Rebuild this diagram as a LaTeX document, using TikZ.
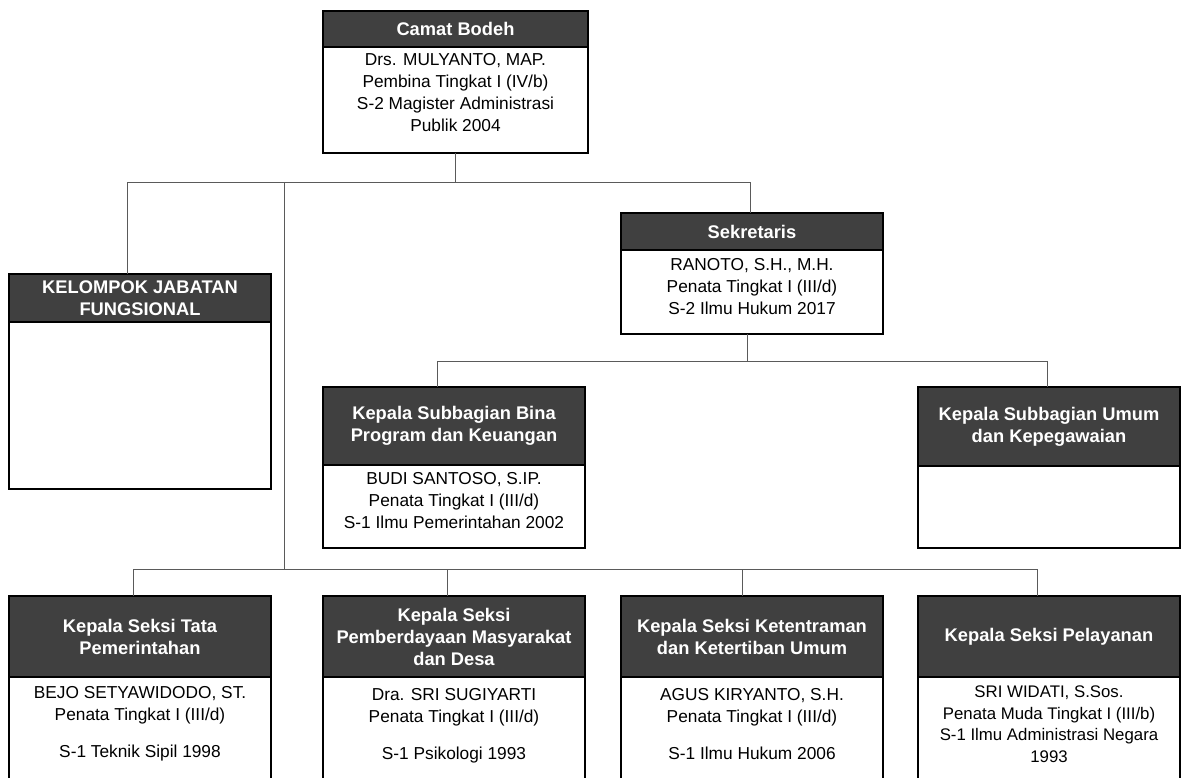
\documentclass[tikz,border=0pt]{standalone}
\usepackage{fontspec}
\setmainfont{Liberation Sans}
\definecolor{hdrgray}{HTML}{404040}
\definecolor{conngray}{HTML}{5A5A5A}
\begin{document}
\begin{tikzpicture}[x=1pt,y=-1pt,
  frame/.style={draw=black, line width=2pt, inner sep=0pt, outer sep=0pt, anchor=north west, minimum width=262pt},
  hdr/.style={fill=hdrgray, text=white, font=\bfseries\fontsize{18.3}{22}\selectfont, align=center, inner sep=0pt, outer sep=0pt, anchor=north west, minimum width=262pt},
  txt/.style={font=\fontsize{17.3}{22}\selectfont, align=center, inner sep=0pt, anchor=north},
  sep/.style={draw=black, line width=2pt},
  conn/.style={draw=conngray, line width=1pt}]
\useasboundingbox (0,0) rectangle (1181,777);
\clip (0,0) rectangle (1181,777);

% junction coordinates
\coordinate (t1) at (127,182);
\coordinate (t2) at (284,182);
\coordinate (t3) at (750,182);
\coordinate (m0) at (747,361);
\coordinate (m1) at (437,361);
\coordinate (m2) at (1047,361);
\coordinate (u1) at (133,569);
\coordinate (u2) at (447,569);
\coordinate (u3) at (742,569);
\coordinate (u4) at (1037,569);

% headers
\node[hdr, minimum width=265pt, minimum height=36pt] (camatH) at (323,11) {Camat Bodeh};
\node[hdr, minimum height=48pt] (kjfH) at (9,274) {KELOMPOK JABATAN\\FUNGSIONAL};
\node[hdr, minimum height=37pt] (sekH) at (621,213) {Sekretaris};
\node[hdr, minimum height=78pt] (binaH) at (323,387) {Kepala Subbagian Bina\\Program dan Keuangan};
\node[hdr, minimum height=79pt] (umumH) at (918,387) {Kepala Subbagian Umum\\dan Kepegawaian};
\node[hdr, minimum height=81pt] (s1H) at (9,596) {Kepala Seksi Tata\\Pemerintahan};
\node[hdr, minimum height=81pt] (s2H) at (323,596) {Kepala Seksi\\Pemberdayaan Masyarakat\\dan Desa};
\node[hdr, minimum height=81pt] (s3H) at (621,596) {Kepala Seksi Ketentraman\\dan Ketertiban Umum};
\node[hdr, minimum height=81pt] (s4H) at (918,596) {Kepala Seksi Pelayanan};

% frames
\node[frame, minimum width=265pt, minimum height=142pt] (camat) at (323,11) {};
\node[frame, minimum height=215pt] (kjf) at (9,274) {};
\node[frame, minimum height=121pt] (sek) at (621,213) {};
\node[frame, minimum height=161pt] (bina) at (323,387) {};
\node[frame, minimum height=161pt] (umum) at (918,387) {};
\node[frame, minimum height=220pt] (s1) at (9,596) {};
\node[frame, minimum height=220pt] (s2) at (323,596) {};
\node[frame, minimum height=220pt] (s3) at (621,596) {};
\node[frame, minimum height=220pt] (s4) at (918,596) {};

% separators
\foreach \h in {camatH,kjfH,sekH,binaH,umumH,s1H,s2H,s3H,s4H}
  \draw[sep] (\h.south west) -- (\h.south east);

% body texts
\node[txt] (camatT) at (455.5,53) {Drs. MULYANTO, MAP.\\Pembina Tingkat I (IV/b)\\S-2 Magister Administrasi\\Publik 2004};
\node[txt] (sekT) at (752,258) {RANOTO, S.H., M.H.\\Penata Tingkat I (III/d)\\S-2 Ilmu Hukum 2017};
\node[txt] (binaT) at (454,472) {BUDI SANTOSO, S.IP.\\Penata Tingkat I (III/d)\\S-1 Ilmu Pemerintahan 2002};
\node[txt] (s1T) at (140,686) {BEJO SETYAWIDODO, ST.\\Penata Tingkat I (III/d)\\[15pt]S-1 Teknik Sipil 1998};
\node[txt] (s2T) at (454,688) {Dra. SRI SUGIYARTI\\Penata Tingkat I (III/d)\\[15pt]S-1 Psikologi 1993};
\node[txt] (s3T) at (752,688) {AGUS KIRYANTO, S.H.\\Penata Tingkat I (III/d)\\[15pt]S-1 Ilmu Hukum 2006};
\node[txt, font=\fontsize{16.8}{21.5}\selectfont] (s4T) at (1049,686) {SRI WIDATI, S.Sos.\\Penata Muda Tingkat I (III/b)\\S-1 Ilmu Administrasi Negara\\1993};

% connectors
\draw[conn] (camat.south) -- (camat.south |- t1);
\draw[conn] (t1) -- (t3);
\draw[conn] (t1) -- (t1 |- kjfH.north);
\draw[conn] (t3) -- (t3 |- sekH.north);
\draw[conn] (t2) -- (t2 |- u1);
\draw[conn] (m0) -- (m0 |- sek.south);
\draw[conn] (m1) -- (m2);
\draw[conn] (m1) -- (m1 |- binaH.north);
\draw[conn] (m2) -- (m2 |- umumH.north);
\draw[conn] (u1) -- (u4);
\draw[conn] (u1) -- (u1 |- s1H.north);
\draw[conn] (u2) -- (u2 |- s2H.north);
\draw[conn] (u3) -- (u3 |- s3H.north);
\draw[conn] (u4) -- (u4 |- s4H.north);
\end{tikzpicture}
\end{document}
